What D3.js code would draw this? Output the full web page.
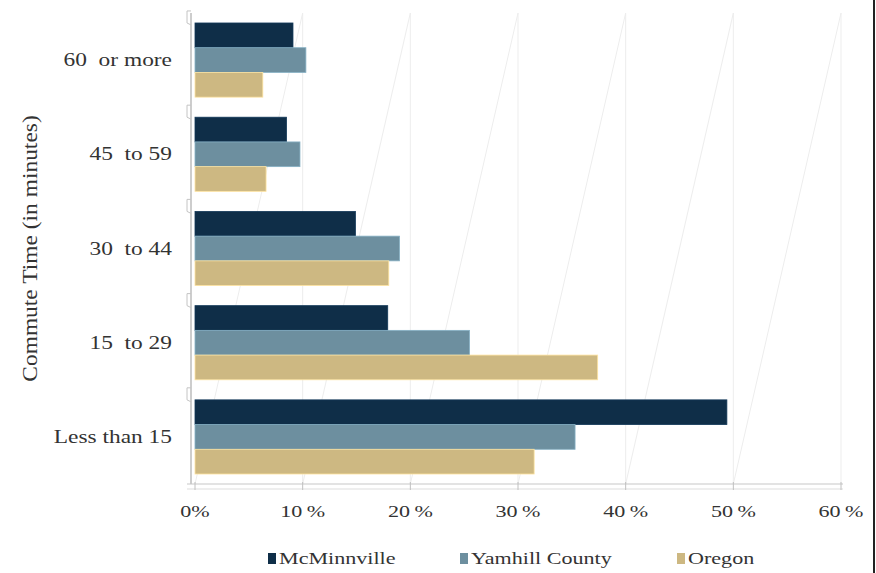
<!DOCTYPE html>
<html>
<head>
<meta charset="utf-8">
<script src="https://cdn.jsdelivr.net/npm/d3@7"></script>
<style>
  body { margin: 0; background: #fff; }
  text { font-family: "Liberation Serif", "Times New Roman", serif; fill: #333; }
</style>
</head>
<body>
<div id="chart"></div>
<script>
var categories = ["60  or more", "45  to 59", "30  to 44", "15  to 29", "Less than 15"];
var seriesNames = ["McMinnville", "Yamhill County", "Oregon"];
var mcminnville = [9.1, 8.5, 14.9, 17.9, 49.4];
var yamhill = [10.3, 9.75, 19.0, 25.5, 35.3];
var oregon = [6.3, 6.6, 18.0, 37.4, 31.5];
var xTicks = [0, 10, 20, 30, 40, 50, 60];
var colors = ["#0f2e48", "#6d8f9f", "#cdb882"];

var width = 876, height = 573;
var plotTop = 13, plotBottom = 484, plotLeft = 195, plotRight = 841;
var stretch = 1.3; // text in the picture is drawn wide

var svg = d3.select("#chart").append("svg")
    .attr("width", width)
    .attr("height", height);

var xScale = d3.scaleLinear().domain([0, 60]).range([plotLeft, plotRight]);
var yScale = d3.scaleBand().domain(categories).range([plotTop, plotBottom])
    .paddingInner(0.213).paddingOuter(0.106);
var ySub = d3.scaleBand().domain(seriesNames).range([0, yScale.bandwidth()]);

var rows = categories.map((c, i) => ({cat: c, vals: [mcminnville[i], yamhill[i], oregon[i]]}));

// back wall gridlines (vertical) and the slanted ones from the 3d look
var grid = svg.append("g");
xTicks.slice(1).forEach(t => {
    grid.append("line")
        .attr("x1", xScale(t)).attr("x2", xScale(t))
        .attr("y1", plotTop).attr("y2", plotBottom)
        .attr("stroke", "#ededed").attr("stroke-width", 1);
    grid.append("line")
        .attr("x1", xScale(t)).attr("y1", plotTop)
        .attr("x2", xScale(t - 10)).attr("y2", plotBottom)
        .attr("stroke", "#ededed").attr("stroke-width", 1);
});

// bars
var groups = svg.selectAll(".grp")
    .data(rows)
    .enter().append("g")
    .attr("transform", d => "translate(0," + yScale(d.cat) + ")");

groups.selectAll("rect")
    .data(d => d.vals.map((v, j) => ({name: seriesNames[j], v: v, j: j})))
    .enter().append("rect")
    .attr("x", xScale(0))
    .attr("y", d => ySub(d.name))
    .attr("width", d => xScale(d.v) - xScale(0))
    .attr("height", ySub.bandwidth())
    .attr("fill", d => colors[d.j])
    .attr("stroke", d => d3.color(colors[d.j]).brighter(0.6))
    .attr("stroke-width", 0.8);

// left axis with small 3d hooks
var axisX = 191;
svg.append("line")
    .attr("x1", axisX).attr("x2", axisX)
    .attr("y1", plotTop).attr("y2", plotBottom)
    .attr("stroke", "#bdbdbd").attr("stroke-width", 1.5);
var hookYs = categories.map(c => yScale(c) - yScale.step() * yScale.paddingInner() / 2);
hookYs.forEach(y => {
    svg.append("path")
        .attr("d", "M" + axisX + "," + (y - 2) + "L" + (axisX - 4) + "," + (y - 2) +
             "L" + (axisX - 4) + "," + (y + 10) + "L" + axisX + "," + (y + 12))
        .attr("fill", "none").attr("stroke", "#c4c4c4").attr("stroke-width", 1);
});

// bottom axis (floor edge)
svg.append("line")
    .attr("x1", 187).attr("x2", plotRight + 2)
    .attr("y1", plotBottom).attr("y2", plotBottom)
    .attr("stroke", "#c8c8c8").attr("stroke-width", 1.2);
svg.append("line")
    .attr("x1", 187).attr("x2", plotRight + 2)
    .attr("y1", plotBottom + 5).attr("y2", plotBottom + 5)
    .attr("stroke", "#dedede").attr("stroke-width", 1.2);
xTicks.forEach(t => {
    svg.append("line")
        .attr("x1", xScale(t)).attr("x2", xScale(t))
        .attr("y1", plotBottom - 2).attr("y2", plotBottom + 6)
        .attr("stroke", "#c0c0c0").attr("stroke-width", 1);
});

xTicks.forEach(t => {
    svg.append("text")
        .attr("transform", "translate(" + xScale(t) + "," + (plotBottom + 33) + ") scale(" + stretch + ",1)")
        .attr("text-anchor", "middle")
        .style("font-size", "17px")
        .text(t + (t == 0 ? "%" : "\u2009%"));
});

// category labels
categories.forEach(c => {
    svg.append("text")
        .attr("transform", "translate(172," + (yScale(c) + yScale.bandwidth() / 2 + 6) + ") scale(" + stretch + ",1)")
        .attr("text-anchor", "end")
        .style("font-size", "18px")
        .style("white-space", "pre")
        .text(c);
});

// axis title
svg.append("text")
    .attr("transform", "translate(37," + ((plotTop + plotBottom) / 2) + ") rotate(-90) scale(1.38,1.25)")
    .attr("text-anchor", "middle")
    .style("font-size", "17px")
    .text("Commute Time (in minutes)");

// legend
var legendX = [268, 460, 677];
seriesNames.forEach((s, i) => {
    svg.append("rect")
        .attr("x", legendX[i]).attr("y", 553)
        .attr("width", 8).attr("height", 11)
        .attr("fill", colors[i]);
    svg.append("text")
        .attr("transform", "translate(" + (legendX[i] + 11) + ",564) scale(" + stretch + ",1)")
        .style("font-size", "17px")
        .text(s);
});

// right border
svg.append("line")
    .attr("x1", 874).attr("x2", 874)
    .attr("y1", 0).attr("y2", height)
    .attr("stroke", "#222").attr("stroke-width", 2);
</script>
</body>
</html>
